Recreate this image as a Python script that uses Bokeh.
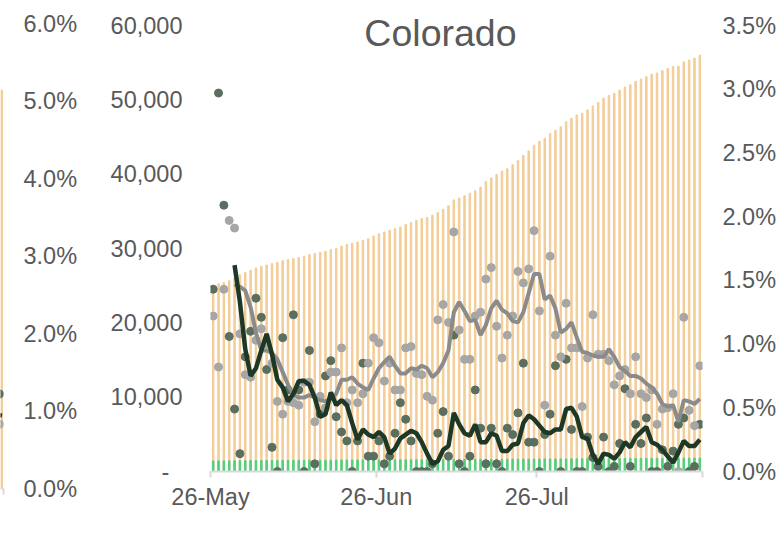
import math
from bokeh.plotting import figure
from bokeh.models import (Range1d, LinearAxis, FixedTicker, PrintfTickFormatter,
                          NumeralTickFormatter, Label)
from bokeh.layouts import row
from bokeh.embed import file_html
from bokeh.resources import INLINE

nan = float("nan")
FONT = "Liberation Sans"
TXT = "#595959"
AXIS = "#d9d9d9"

# ---------------- data (26-May .. 25-Aug, one value per day) ----------------
title_text = "Colorado"
tick_days = [0, 31, 61, 92]
tick_labels = ["26-May", "26-Jun", "26-Jul", ""]
left_ticks = [0, 10000, 20000, 30000, 40000, 50000, 60000]
right_ticks = [0.0, 0.5, 1.0, 1.5, 2.0, 2.5, 3.0, 3.5]
prev_ticks = [0, 1, 2, 3, 4, 5, 6]

cum_cases = [25100, 25250, 25430, 25660, 26020, 26470, 26780, 27060, 27380, 27600,
             27780, 27960, 28140, 28370, 28510, 28640, 28780, 28950, 29180, 29320,
             29500, 29630, 29860, 30000, 30310, 30540, 30720, 30860, 31100, 31310,
             31670, 31990, 32210, 32460, 32670, 32890, 33260, 33490, 33800, 34030,
             34160, 34480, 34840, 35290, 35740, 36540, 36790, 37100, 37420, 37780,
             38240, 39000, 39500, 39950, 40410, 40720, 41270, 41850, 42530, 43130,
             43890, 44430, 44790, 45470, 45920, 46380, 47060, 47510, 47960, 48190,
             48640, 49180, 49640, 50220, 50590, 50900, 51310, 51720, 52030, 52490,
             52800, 53110, 53440, 53620, 53930, 54200, 54470, 54530, 55110, 55340,
             55610, 56020]

cum_deaths = [1420, 1425, 1430, 1440, 1445, 1450, 1455, 1460, 1470, 1472,
              1475, 1480, 1485, 1490, 1495, 1500, 1502, 1505, 1510, 1515,
              1518, 1520, 1525, 1530, 1532, 1535, 1540, 1545, 1548, 1550,
              1555, 1558, 1560, 1563, 1566, 1570, 1572, 1575, 1578, 1580,
              1583, 1585, 1590, 1592, 1595, 1600, 1605, 1610, 1612, 1615,
              1620, 1625, 1628, 1632, 1636, 1640, 1645, 1650, 1655, 1660,
              1665, 1670, 1675, 1680, 1686, 1690, 1695, 1700, 1705, 1710,
              1714, 1718, 1722, 1727, 1731, 1736, 1740, 1745, 1750, 1754,
              1758, 1762, 1766, 1770, 1775, 1779, 1783, 1787, 1792, 1796,
              1800, 1805]

daily_pct_dark = [1.43, 2.97, 2.09, 1.06, 0.49, 0.14, 0.90, 1.10, 1.36, 1.21,
                  0.80, 0.19, 0.00, 1.05, 0.64, 1.23, 0.64, 0.00, 0.95, 0.06,
                  0.45, 0.75, 0.87, 0.43, 0.31, 0.24, 0.00, 0.24, 0.85, 0.12,
                  0.12, 0.24, 0.06, 0.12, 0.30, 0.54, 0.41, 0.24, 0.00, 0.00,
                  0.00, 0.06, 0.30, 0.47, 0.12, 1.07, 0.06, 0.00, 0.12, 0.64,
                  0.34, 0.06, 0.34, 0.06, 0.00, 0.34, 0.29, 0.46, 0.85, 0.23,
                  0.23, 0.00, 0.29, 0.45, 0.83, 0.00, 0.88, 0.33, 0.00, 0.00,
                  0.27, 0.11, 0.04, 0.27, 0.00, 0.04, 0.22, 0.65, 0.04, 0.37,
                  0.22, 0.42, 0.00, 0.00, 0.17, 0.04, 0.16, 0.37, 0.42, 0.00,
                  0.04, 0.37]

daily_pct_gray = [1.22, 0.82, 1.43, 1.97, 1.91, 1.08, 0.76, 0.74, 1.03, 1.12,
                  1.00, 0.85, 0.55, 0.45, 0.55, 0.54, 0.52, 0.70, 0.70, 0.39,
                  0.59, 0.50, 0.78, 0.78, 0.97, 0.54, 0.64, 0.54, 0.61, 0.85,
                  1.05, 1.01, 0.71, 0.85, 0.64, 0.64, 0.97, 0.98, 0.77, 0.76,
                  0.59, 0.56, 1.19, 1.31, 1.17, 1.88, 1.11, 0.88, 0.88, 1.22,
                  1.25, 1.51, 1.60, 1.14, 0.89, 1.07, 1.22, 1.57, 1.48, 1.59,
                  1.89, 1.26, 0.52, 1.69, 1.07, 0.90, 1.32, 0.97, 0.97, 0.51,
                  0.89, 1.23, 0.92, 0.92, 0.87, 0.68, 0.75, 0.80, 0.61, 0.90,
                  0.61, 0.58, 0.64, 0.37, 0.49, 0.50, 0.61, 0.00, 1.21, 0.48,
                  0.36, 0.83]

avg_pct_gray = [nan, nan, nan, nan,
                1.47, 1.45, 1.42, 1.29, 1.09, 0.95, 0.95, 0.93, 0.88, 0.78,
                0.68, 0.60, 0.58, 0.58, 0.60, 0.58, 0.56, 0.55, 0.57, 0.61,
                0.72, 0.72, 0.74, 0.69, 0.66, 0.64, 0.73, 0.81, 0.86, 0.90,
                0.83, 0.77, 0.77, 0.81, 0.80, 0.83, 0.81, 0.74, 0.78, 0.85,
                0.95, 1.25, 1.33, 1.26, 1.18, 1.19, 1.07, 1.15, 1.28, 1.34,
                1.27, 1.24, 1.18, 1.17, 1.25, 1.40, 1.55, 1.55, 1.35, 1.38,
                1.28, 1.09, 1.12, 1.17, 1.05, 0.94, 0.93, 0.91, 0.90, 0.90,
                0.96, 0.90, 0.82, 0.79, 0.75, 0.75, 0.73, 0.69, 0.66, 0.61,
                0.53, 0.51, 0.52, 0.39, 0.56, 0.55, 0.53, 0.57]

avg_pct_dark = [nan, nan, nan, nan,
                1.62, 1.33, 0.96, 0.75, 0.81, 0.95, 1.08, 0.92, 0.72, 0.66,
                0.55, 0.61, 0.71, 0.71, 0.68, 0.58, 0.43, 0.45, 0.62, 0.52,
                0.56, 0.52, 0.38, 0.25, 0.33, 0.29, 0.27, 0.31, 0.27, 0.14,
                0.18, 0.26, 0.29, 0.32, 0.30, 0.23, 0.14, 0.06, 0.08, 0.17,
                0.20, 0.46, 0.37, 0.30, 0.28, 0.37, 0.23, 0.23, 0.30, 0.28,
                0.16, 0.16, 0.21, 0.22, 0.38, 0.44, 0.41, 0.36, 0.31, 0.30,
                0.33, 0.33, 0.49, 0.50, 0.43, 0.27, 0.26, 0.13, 0.06, 0.14,
                0.13, 0.10, 0.15, 0.23, 0.19, 0.27, 0.31, 0.35, 0.23, 0.21,
                0.17, 0.12, 0.07, 0.15, 0.24, 0.20, 0.20, 0.25]

# cut-off neighbouring chart on the left (only its right edge is visible)
prev_bar_top = [5.14]
prev_dark_dot = [1.22]
prev_gray_dot = [0.83]
prev_dark_avg = [0.95, 0.94]

n_days = len(cum_cases)
xs = [i + 0.5 for i in range(n_days)]

BAR = "#f3cd98"
GREEN = "#4fd07e"
DARK_DOT = "#5a6f60"
GRAY_DOT = "#a6a6a6"
DARK_LINE = "#1d3826"
GRAY_LINE = "#8b8b8b"
DOT = 8

# layout (px): both frames start at the top of the page; frames differ in height
BOTTOM = 45
B_FRAME = 471          # main frame: top 0 .. x-axis at 471
B_TOP_VALUE = 25       # y position where 60,000 / 3.5% sit
A_FRAME = 488          # neighbour frame: top 0 .. x-axis at 488
A_TOP_VALUE = 23       # y position of 6.0%
H_B = B_FRAME + BOTTOM
H_A = A_FRAME + BOTTOM

def style_text(axis, size="23.5px"):
    axis.major_label_text_font = FONT
    axis.major_label_text_font_size = size
    axis.major_label_text_color = TXT

def no_line_axis(axis):
    axis.axis_line_color = None
    axis.major_tick_line_color = None
    axis.minor_tick_line_color = None
    axis.major_tick_out = 0
    axis.major_tick_in = 0

def date_axis(axis):
    axis.axis_line_color = AXIS
    axis.axis_line_width = 2
    axis.major_tick_line_color = AXIS
    axis.major_tick_line_width = 2
    axis.major_tick_out = 6
    axis.major_tick_in = 0
    axis.minor_tick_line_color = None

# ---------------- left, cut-off chart ----------------
a_max = 6 * A_FRAME / (A_FRAME - A_TOP_VALUE)
pA = figure(width=90, height=H_A, output_backend="svg", toolbar_location=None,
            x_range=Range1d(0, 1), y_range=Range1d(0, a_max), y_axis_location="right",
            min_border_left=0, min_border_right=87, min_border_top=0,
            min_border_bottom=BOTTOM)
pA.outline_line_color = None
pA.grid.visible = False
ya = pA.yaxis[0]
ya.ticker = FixedTicker(ticks=prev_ticks)
ya.formatter = PrintfTickFormatter(format="%.1f%%")
no_line_axis(ya)
ya.major_label_standoff = 20
style_text(ya)
xa = pA.xaxis[0]
xa.ticker = FixedTicker(ticks=[1])
xa.major_label_overrides = {1: ""}
date_axis(xa)
pA.vbar(x=[0.4], top=prev_bar_top, width=0.5, color=BAR)
pA.line(x=[-1.0, 0.5], y=prev_dark_avg, line_width=4.5, color=DARK_LINE)
pA.scatter(x=[-0.33], y=prev_dark_dot, size=DOT, color=DARK_DOT)
pA.scatter(x=[-0.33], y=prev_gray_dot, size=DOT, color=GRAY_DOT)

# ---------------- main chart ----------------
scale = B_FRAME / (B_FRAME - B_TOP_VALUE)
pB = figure(width=120 + 493 + 76, height=H_B, output_backend="svg", toolbar_location=None,
            x_range=Range1d(0, n_days), y_range=Range1d(0, 60000 * scale),
            min_border_left=120, min_border_right=76, min_border_top=0,
            min_border_bottom=BOTTOM)
pB.outline_line_color = None
pB.grid.visible = False
pB.extra_y_ranges = {"pct": Range1d(0, 3.5 * scale)}

yl = pB.yaxis[0]
yl.ticker = FixedTicker(ticks=left_ticks)
yl.formatter = NumeralTickFormatter(format="0,0")
yl.major_label_overrides = {0: "-\u2007"}
no_line_axis(yl)
yl.major_label_standoff = 28
style_text(yl)

yr = LinearAxis(y_range_name="pct")
yr.ticker = FixedTicker(ticks=right_ticks)
yr.formatter = PrintfTickFormatter(format="%.1f%%")
no_line_axis(yr)
yr.major_label_standoff = 20
style_text(yr)
pB.add_layout(yr, "right")

xb = pB.xaxis[0]
xb.ticker = FixedTicker(ticks=tick_days)
xb.major_label_overrides = {d: l for d, l in zip(tick_days, tick_labels)}
date_axis(xb)
xb.major_label_standoff = 6
style_text(xb)

pB.vbar(x=xs, top=cum_cases, width=0.28, color=BAR)
pB.vbar(x=xs, top=cum_deaths, width=0.28, color=GREEN)
pB.scatter(x=xs, y=daily_pct_dark, size=DOT, color=DARK_DOT, y_range_name="pct")
pB.scatter(x=xs, y=daily_pct_gray, size=DOT, color=GRAY_DOT, y_range_name="pct")
pB.line(x=xs, y=avg_pct_gray, line_width=4, color=GRAY_LINE, y_range_name="pct")
pB.line(x=xs, y=avg_pct_dark, line_width=4.5, color=DARK_LINE, y_range_name="pct")

pB.add_layout(Label(x=43.0, y=59000, text=title_text, text_font=FONT,
                    text_font_size="37.5px", text_color=TXT, text_align="center",
                    text_baseline="middle"))

layout = row(pA, pB)
open("out.html", "w").write(file_html(layout, INLINE))
